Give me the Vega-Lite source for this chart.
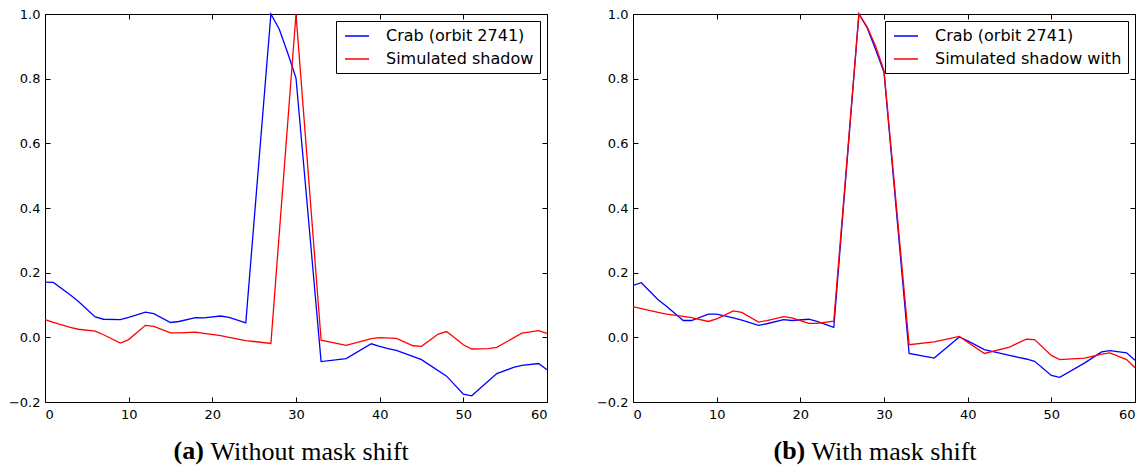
{
  "$schema": "https://vega.github.io/schema/vega-lite/v6.json",
  "background": "white",
  "padding": {"left": 7, "top": 7, "right": 5, "bottom": 0},
  "spacing": 44,
  "config": {
    "view": {"stroke": "#000", "strokeWidth": 1},
    "axis": {
      "domain": false, "grid": false, "tickColor": "#000", "tickSize": -5, "tickWidth": 1,
      "labelFont": "DejaVu Sans", "labelFontSize": 13, "labelColor": "#000", "labelPadding": 10,
      "titleFont": "Liberation Serif", "titleFontSize": 26, "titleColor": "#000"
    },
    "legend": {
      "orient": "top-right", "offset": 7, "padding": 6, "strokeColor": "#000", "strokeWidth": 1,
      "fillColor": "white", "cornerRadius": 0, "title": null, "labelLimit": 400,
      "labelFont": "DejaVu Sans", "labelFontSize": 16, "labelColor": "#000",
      "symbolType": "M-1.5,0L1.5,0", "symbolSize": 256, "symbolStrokeWidth": 1.5,
      "symbolOffset": 6, "labelOffset": 20, "rowPadding": 6
    }
  },
  "datasets": {
    "pts": [
      {"panel": "a", "series": "Crab (orbit 2741)", "x": 0, "y": 0.171},
      {"panel": "a", "series": "Crab (orbit 2741)", "x": 1, "y": 0.170},
      {"panel": "a", "series": "Crab (orbit 2741)", "x": 3, "y": 0.132},
      {"panel": "a", "series": "Crab (orbit 2741)", "x": 4, "y": 0.111},
      {"panel": "a", "series": "Crab (orbit 2741)", "x": 6, "y": 0.063},
      {"panel": "a", "series": "Crab (orbit 2741)", "x": 7, "y": 0.056},
      {"panel": "a", "series": "Crab (orbit 2741)", "x": 9, "y": 0.055},
      {"panel": "a", "series": "Crab (orbit 2741)", "x": 10, "y": 0.062},
      {"panel": "a", "series": "Crab (orbit 2741)", "x": 12, "y": 0.078},
      {"panel": "a", "series": "Crab (orbit 2741)", "x": 13, "y": 0.073},
      {"panel": "a", "series": "Crab (orbit 2741)", "x": 15, "y": 0.046},
      {"panel": "a", "series": "Crab (orbit 2741)", "x": 16, "y": 0.049},
      {"panel": "a", "series": "Crab (orbit 2741)", "x": 18, "y": 0.061},
      {"panel": "a", "series": "Crab (orbit 2741)", "x": 19, "y": 0.060},
      {"panel": "a", "series": "Crab (orbit 2741)", "x": 21, "y": 0.066},
      {"panel": "a", "series": "Crab (orbit 2741)", "x": 22, "y": 0.062},
      {"panel": "a", "series": "Crab (orbit 2741)", "x": 24, "y": 0.045},
      {"panel": "a", "series": "Crab (orbit 2741)", "x": 27, "y": 1.0},
      {"panel": "a", "series": "Crab (orbit 2741)", "x": 28, "y": 0.953},
      {"panel": "a", "series": "Crab (orbit 2741)", "x": 29, "y": 0.88},
      {"panel": "a", "series": "Crab (orbit 2741)", "x": 30, "y": 0.802},
      {"panel": "a", "series": "Crab (orbit 2741)", "x": 33, "y": -0.075},
      {"panel": "a", "series": "Crab (orbit 2741)", "x": 36, "y": -0.066},
      {"panel": "a", "series": "Crab (orbit 2741)", "x": 39, "y": -0.020},
      {"panel": "a", "series": "Crab (orbit 2741)", "x": 40, "y": -0.028},
      {"panel": "a", "series": "Crab (orbit 2741)", "x": 41, "y": -0.035},
      {"panel": "a", "series": "Crab (orbit 2741)", "x": 42, "y": -0.040},
      {"panel": "a", "series": "Crab (orbit 2741)", "x": 45, "y": -0.069},
      {"panel": "a", "series": "Crab (orbit 2741)", "x": 48, "y": -0.120},
      {"panel": "a", "series": "Crab (orbit 2741)", "x": 50, "y": -0.176},
      {"panel": "a", "series": "Crab (orbit 2741)", "x": 51, "y": -0.181},
      {"panel": "a", "series": "Crab (orbit 2741)", "x": 54, "y": -0.112},
      {"panel": "a", "series": "Crab (orbit 2741)", "x": 56, "y": -0.093},
      {"panel": "a", "series": "Crab (orbit 2741)", "x": 57, "y": -0.087},
      {"panel": "a", "series": "Crab (orbit 2741)", "x": 59, "y": -0.081},
      {"panel": "a", "series": "Crab (orbit 2741)", "x": 60, "y": -0.100},
      {"panel": "a", "series": "Simulated shadow", "x": 0, "y": 0.055},
      {"panel": "a", "series": "Simulated shadow", "x": 1, "y": 0.046},
      {"panel": "a", "series": "Simulated shadow", "x": 3, "y": 0.031},
      {"panel": "a", "series": "Simulated shadow", "x": 4, "y": 0.025},
      {"panel": "a", "series": "Simulated shadow", "x": 6, "y": 0.019},
      {"panel": "a", "series": "Simulated shadow", "x": 7, "y": 0.008},
      {"panel": "a", "series": "Simulated shadow", "x": 9, "y": -0.018},
      {"panel": "a", "series": "Simulated shadow", "x": 10, "y": -0.007},
      {"panel": "a", "series": "Simulated shadow", "x": 12, "y": 0.037},
      {"panel": "a", "series": "Simulated shadow", "x": 13, "y": 0.034},
      {"panel": "a", "series": "Simulated shadow", "x": 15, "y": 0.014},
      {"panel": "a", "series": "Simulated shadow", "x": 16, "y": 0.014},
      {"panel": "a", "series": "Simulated shadow", "x": 18, "y": 0.016},
      {"panel": "a", "series": "Simulated shadow", "x": 19, "y": 0.012},
      {"panel": "a", "series": "Simulated shadow", "x": 21, "y": 0.005},
      {"panel": "a", "series": "Simulated shadow", "x": 22, "y": 0.000},
      {"panel": "a", "series": "Simulated shadow", "x": 24, "y": -0.010},
      {"panel": "a", "series": "Simulated shadow", "x": 27, "y": -0.019},
      {"panel": "a", "series": "Simulated shadow", "x": 30, "y": 1.0},
      {"panel": "a", "series": "Simulated shadow", "x": 33, "y": -0.009},
      {"panel": "a", "series": "Simulated shadow", "x": 36, "y": -0.025},
      {"panel": "a", "series": "Simulated shadow", "x": 39, "y": -0.004},
      {"panel": "a", "series": "Simulated shadow", "x": 40, "y": -0.001},
      {"panel": "a", "series": "Simulated shadow", "x": 42, "y": -0.003},
      {"panel": "a", "series": "Simulated shadow", "x": 44, "y": -0.026},
      {"panel": "a", "series": "Simulated shadow", "x": 45, "y": -0.028},
      {"panel": "a", "series": "Simulated shadow", "x": 47, "y": 0.010},
      {"panel": "a", "series": "Simulated shadow", "x": 48, "y": 0.018},
      {"panel": "a", "series": "Simulated shadow", "x": 50, "y": -0.023},
      {"panel": "a", "series": "Simulated shadow", "x": 51, "y": -0.036},
      {"panel": "a", "series": "Simulated shadow", "x": 53, "y": -0.035},
      {"panel": "a", "series": "Simulated shadow", "x": 54, "y": -0.031},
      {"panel": "a", "series": "Simulated shadow", "x": 57, "y": 0.013},
      {"panel": "a", "series": "Simulated shadow", "x": 59, "y": 0.021},
      {"panel": "a", "series": "Simulated shadow", "x": 60, "y": 0.012},
      {"panel": "b", "series": "Crab (orbit 2741)", "x": 0, "y": 0.161},
      {"panel": "b", "series": "Crab (orbit 2741)", "x": 1, "y": 0.169},
      {"panel": "b", "series": "Crab (orbit 2741)", "x": 3, "y": 0.116},
      {"panel": "b", "series": "Crab (orbit 2741)", "x": 4, "y": 0.096},
      {"panel": "b", "series": "Crab (orbit 2741)", "x": 6, "y": 0.052},
      {"panel": "b", "series": "Crab (orbit 2741)", "x": 7, "y": 0.052},
      {"panel": "b", "series": "Crab (orbit 2741)", "x": 9, "y": 0.072},
      {"panel": "b", "series": "Crab (orbit 2741)", "x": 10, "y": 0.072},
      {"panel": "b", "series": "Crab (orbit 2741)", "x": 12, "y": 0.060},
      {"panel": "b", "series": "Crab (orbit 2741)", "x": 13, "y": 0.053},
      {"panel": "b", "series": "Crab (orbit 2741)", "x": 15, "y": 0.037},
      {"panel": "b", "series": "Crab (orbit 2741)", "x": 16, "y": 0.042},
      {"panel": "b", "series": "Crab (orbit 2741)", "x": 18, "y": 0.055},
      {"panel": "b", "series": "Crab (orbit 2741)", "x": 19, "y": 0.052},
      {"panel": "b", "series": "Crab (orbit 2741)", "x": 21, "y": 0.056},
      {"panel": "b", "series": "Crab (orbit 2741)", "x": 22, "y": 0.049},
      {"panel": "b", "series": "Crab (orbit 2741)", "x": 24, "y": 0.031},
      {"panel": "b", "series": "Crab (orbit 2741)", "x": 27, "y": 1.0},
      {"panel": "b", "series": "Crab (orbit 2741)", "x": 28, "y": 0.957},
      {"panel": "b", "series": "Crab (orbit 2741)", "x": 29, "y": 0.89},
      {"panel": "b", "series": "Crab (orbit 2741)", "x": 30, "y": 0.82},
      {"panel": "b", "series": "Crab (orbit 2741)", "x": 33, "y": -0.050},
      {"panel": "b", "series": "Crab (orbit 2741)", "x": 36, "y": -0.064},
      {"panel": "b", "series": "Crab (orbit 2741)", "x": 39, "y": 0.001},
      {"panel": "b", "series": "Crab (orbit 2741)", "x": 40, "y": -0.011},
      {"panel": "b", "series": "Crab (orbit 2741)", "x": 42, "y": -0.038},
      {"panel": "b", "series": "Crab (orbit 2741)", "x": 45, "y": -0.056},
      {"panel": "b", "series": "Crab (orbit 2741)", "x": 47, "y": -0.067},
      {"panel": "b", "series": "Crab (orbit 2741)", "x": 48, "y": -0.074},
      {"panel": "b", "series": "Crab (orbit 2741)", "x": 50, "y": -0.118},
      {"panel": "b", "series": "Crab (orbit 2741)", "x": 51, "y": -0.124},
      {"panel": "b", "series": "Crab (orbit 2741)", "x": 54, "y": -0.079},
      {"panel": "b", "series": "Crab (orbit 2741)", "x": 56, "y": -0.045},
      {"panel": "b", "series": "Crab (orbit 2741)", "x": 57, "y": -0.041},
      {"panel": "b", "series": "Crab (orbit 2741)", "x": 59, "y": -0.048},
      {"panel": "b", "series": "Crab (orbit 2741)", "x": 60, "y": -0.071},
      {"panel": "b", "series": "Simulated shadow with", "x": 0, "y": 0.095},
      {"panel": "b", "series": "Simulated shadow with", "x": 1, "y": 0.089},
      {"panel": "b", "series": "Simulated shadow with", "x": 3, "y": 0.077},
      {"panel": "b", "series": "Simulated shadow with", "x": 4, "y": 0.072},
      {"panel": "b", "series": "Simulated shadow with", "x": 6, "y": 0.065},
      {"panel": "b", "series": "Simulated shadow with", "x": 7, "y": 0.061},
      {"panel": "b", "series": "Simulated shadow with", "x": 9, "y": 0.049},
      {"panel": "b", "series": "Simulated shadow with", "x": 10, "y": 0.057},
      {"panel": "b", "series": "Simulated shadow with", "x": 12, "y": 0.082},
      {"panel": "b", "series": "Simulated shadow with", "x": 13, "y": 0.077},
      {"panel": "b", "series": "Simulated shadow with", "x": 15, "y": 0.047},
      {"panel": "b", "series": "Simulated shadow with", "x": 16, "y": 0.052},
      {"panel": "b", "series": "Simulated shadow with", "x": 18, "y": 0.064},
      {"panel": "b", "series": "Simulated shadow with", "x": 19, "y": 0.060},
      {"panel": "b", "series": "Simulated shadow with", "x": 21, "y": 0.043},
      {"panel": "b", "series": "Simulated shadow with", "x": 22, "y": 0.043},
      {"panel": "b", "series": "Simulated shadow with", "x": 24, "y": 0.050},
      {"panel": "b", "series": "Simulated shadow with", "x": 27, "y": 1.0},
      {"panel": "b", "series": "Simulated shadow with", "x": 28, "y": 0.96},
      {"panel": "b", "series": "Simulated shadow with", "x": 29, "y": 0.90},
      {"panel": "b", "series": "Simulated shadow with", "x": 30, "y": 0.825},
      {"panel": "b", "series": "Simulated shadow with", "x": 33, "y": -0.023},
      {"panel": "b", "series": "Simulated shadow with", "x": 36, "y": -0.014},
      {"panel": "b", "series": "Simulated shadow with", "x": 39, "y": 0.003},
      {"panel": "b", "series": "Simulated shadow with", "x": 40, "y": -0.015},
      {"panel": "b", "series": "Simulated shadow with", "x": 42, "y": -0.050},
      {"panel": "b", "series": "Simulated shadow with", "x": 45, "y": -0.030},
      {"panel": "b", "series": "Simulated shadow with", "x": 47, "y": -0.006},
      {"panel": "b", "series": "Simulated shadow with", "x": 48, "y": -0.007},
      {"panel": "b", "series": "Simulated shadow with", "x": 50, "y": -0.056},
      {"panel": "b", "series": "Simulated shadow with", "x": 51, "y": -0.069},
      {"panel": "b", "series": "Simulated shadow with", "x": 54, "y": -0.064},
      {"panel": "b", "series": "Simulated shadow with", "x": 56, "y": -0.052},
      {"panel": "b", "series": "Simulated shadow with", "x": 57, "y": -0.048},
      {"panel": "b", "series": "Simulated shadow with", "x": 59, "y": -0.069},
      {"panel": "b", "series": "Simulated shadow with", "x": 60, "y": -0.094}
    ]
  },
  "resolve": {"scale": {"color": "independent"}, "legend": {"color": "independent"}},
  "hconcat": [
    {
      "width": 502, "height": 388,
      "data": {"name": "pts"},
      "transform": [{"filter": "datum.panel == 'a'"}],
      "layer": [
        {
          "mark": {"type": "line", "strokeWidth": 1.3},
          "encoding": {
            "x": {"field": "x", "type": "quantitative", "scale": {"domain": [0, 60], "nice": false},
                  "axis": {"orient": "bottom", "values": [0, 10, 20, 30, 40, 50, 60], "format": "d", "labelPadding": 11,
                           "title": "(a)", "titleFontWeight": "bold", "titleX": 128, "titleY": 56, "titleAlign": "left", "titleBaseline": "alphabetic"}},
            "y": {"field": "y", "type": "quantitative", "scale": {"domain": [-0.2, 1.0], "nice": false, "zero": false},
                  "axis": {"orient": "left", "values": [-0.2, 0, 0.2, 0.4, 0.6, 0.8, 1.0], "format": ".1f", "title": null}},
            "color": {"field": "series", "type": "nominal",
                      "scale": {"domain": ["Crab (orbit 2741)", "Simulated shadow"], "range": ["#0000ff", "#ff0000"]}}
          }
        },
        {
          "mark": {"type": "line", "strokeOpacity": 0},
          "encoding": {
            "x": {"field": "x", "type": "quantitative",
                  "axis": {"orient": "top", "values": [0, 10, 20, 30, 40, 50, 60], "labels": false,
                           "title": "Without mask shift", "titleFontWeight": "normal", "titleX": 165, "titleY": 445, "titleAlign": "left", "titleBaseline": "alphabetic"}},
            "y": {"field": "y", "type": "quantitative",
                  "axis": {"orient": "right", "values": [-0.2, 0, 0.2, 0.4, 0.6, 0.8, 1.0], "labels": false, "title": null}}
          }
        }
      ],
      "resolve": {"axis": {"x": "independent", "y": "independent"}}
    },
    {
      "width": 502, "height": 388,
      "data": {"name": "pts"},
      "transform": [{"filter": "datum.panel == 'b'"}],
      "layer": [
        {
          "mark": {"type": "line", "strokeWidth": 1.3},
          "encoding": {
            "x": {"field": "x", "type": "quantitative", "scale": {"domain": [0, 60], "nice": false},
                  "axis": {"orient": "bottom", "values": [0, 10, 20, 30, 40, 50, 60], "format": "d", "labelPadding": 11,
                           "title": "(b)", "titleFontWeight": "bold", "titleX": 140, "titleY": 56, "titleAlign": "left", "titleBaseline": "alphabetic"}},
            "y": {"field": "y", "type": "quantitative", "scale": {"domain": [-0.2, 1.0], "nice": false, "zero": false},
                  "axis": {"orient": "left", "values": [-0.2, 0, 0.2, 0.4, 0.6, 0.8, 1.0], "format": ".1f", "title": null}},
            "color": {"field": "series", "type": "nominal",
                      "scale": {"domain": ["Crab (orbit 2741)", "Simulated shadow with"], "range": ["#0000ff", "#ff0000"]}}
          }
        },
        {
          "mark": {"type": "line", "strokeOpacity": 0},
          "encoding": {
            "x": {"field": "x", "type": "quantitative",
                  "axis": {"orient": "top", "values": [0, 10, 20, 30, 40, 50, 60], "labels": false,
                           "title": "With mask shift", "titleFontWeight": "normal", "titleX": 178, "titleY": 445, "titleAlign": "left", "titleBaseline": "alphabetic"}},
            "y": {"field": "y", "type": "quantitative",
                  "axis": {"orient": "right", "values": [-0.2, 0, 0.2, 0.4, 0.6, 0.8, 1.0], "labels": false, "title": null}}
          }
        }
      ],
      "resolve": {"axis": {"x": "independent", "y": "independent"}}
    }
  ]
}
